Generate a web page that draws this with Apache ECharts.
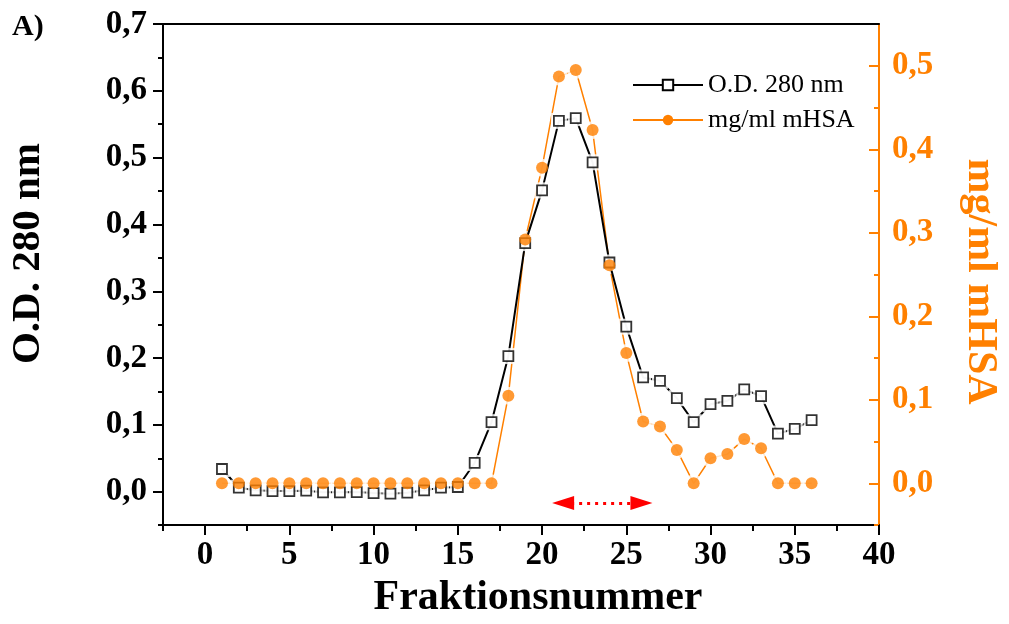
<!DOCTYPE html>
<html>
<head>
<meta charset="utf-8">
<script src="https://cdn.jsdelivr.net/npm/echarts@6/dist/echarts.min.js"></script>
<style>
  html, body { margin: 0; padding: 0; background: #fff; }
  #chart { width: 1009px; height: 624px; }
</style>
</head>
<body>
<div id="chart"></div>
<script>
// Fraction numbers of the gel filtration run
const fractions = [1, 2, 3, 4, 5, 6, 7, 8, 9, 10, 11, 12, 13, 14, 15, 16, 17, 18,
  19, 20, 21, 22, 23, 24, 25, 26, 27, 28, 29, 30, 31, 32, 33, 34, 35, 36];

// Absorbance at 280 nm per fraction
const od280 = [0.034, 0.006, 0.002, 0.001, 0.001, 0.0015, -0.001, -0.001, -0.0005, -0.002,
  -0.003, -0.0015, 0.002, 0.006, 0.007, 0.043, 0.104, 0.203, 0.372, 0.451,
  0.555, 0.559, 0.493, 0.343, 0.247, 0.171, 0.166, 0.140, 0.104, 0.131,
  0.136, 0.153, 0.143, 0.087, 0.094, 0.107];

// mHSA concentration (mg/ml) per fraction
const mhsa = [0, 0, 0, 0, 0, 0, 0, 0, 0, 0, 0, 0, 0, 0, 0, 0, 0, 0.105, 0.292, 0.378,
  0.487, 0.495, 0.423, 0.261, 0.156, 0.074, 0.068, 0.040, 0, 0.030,
  0.035, 0.053, 0.042, 0, 0, 0];

// Tick values
const xTicks = [0, 5, 10, 15, 20, 25, 30, 35, 40];
const xMinorTicks = [-2.5, 2.5, 7.5, 12.5, 17.5, 22.5, 27.5, 32.5, 37.5];
const odTicks = [0, 0.1, 0.2, 0.3, 0.4, 0.5, 0.6, 0.7];
const odMinorTicks = [-0.05, 0.05, 0.15, 0.25, 0.35, 0.45, 0.55, 0.65];
const mhsaTicks = [0, 0.1, 0.2, 0.3, 0.4, 0.5];
const mhsaMinorTicks = [-0.05, 0.05, 0.15, 0.25, 0.35, 0.45];

// Pooled fraction range (double arrow under the peak, arrowhead centres)
const poolRange = [21.25, 25.9];
const poolLevel = -0.017;

const ORANGE = '#ff8000';
const FONT = 'Liberation Serif';

const odPoints = fractions.map((f, i) => [f, od280[i]]);
const mhsaPoints = fractions.map((f, i) => [f, mhsa[i]]);
const comma = v => v.toFixed(1).replace('.', ',');

const tickLabelStyle = { fontFamily: FONT, fontWeight: 'bold', fontSize: 33 };

const chart = echarts.init(document.getElementById('chart'), null, { renderer: 'canvas' });

chart.setOption({
  animation: false,
  backgroundColor: '#fff',
  grid: { left: 163, right: 125, top: 24, bottom: 97, containLabel: false },
  graphic: [{
    type: 'text', left: 12, top: 12,
    style: { text: 'A)', fontFamily: FONT, fontWeight: 'bold', fontSize: 30, fill: '#000' }
  }],
  legend: {
    orient: 'vertical',
    left: 627, top: 67,
    itemWidth: 70, itemHeight: 13, itemGap: 9,
    data: ['O.D. 280 nm', 'mg/ml mHSA'],
    textStyle: { fontFamily: FONT, fontSize: 26, lineHeight: 26, color: '#000' }
  },
  xAxis: [{
    type: 'value', position: 'bottom', min: -2.5, max: 40,
    name: 'Fraktionsnummer', nameLocation: 'middle', nameGap: 51,
    nameTextStyle: { fontFamily: FONT, fontWeight: 'bold', fontSize: 42, color: '#000', padding: [0, 0, 0, 34] },
    splitLine: { show: false },
    axisLine: { show: true, onZero: false, lineStyle: { color: '#000', width: 2 } },
    axisTick: { show: true, customValues: xTicks, length: 10, lineStyle: { width: 2, color: '#000' } },
    axisLabel: { customValues: xTicks, margin: 14, color: '#000', ...tickLabelStyle }
  }, {
    // minor ticks on the bottom axis
    type: 'value', position: 'bottom', min: -2.5, max: 40,
    splitLine: { show: false },
    axisLine: { show: false, onZero: false },
    axisTick: { show: true, customValues: xMinorTicks, length: 6, lineStyle: { width: 2, color: '#000' } },
    axisLabel: { show: false }
  }, {
    // top frame line
    type: 'value', position: 'top', min: -2.5, max: 40,
    splitLine: { show: false },
    axisLine: { show: true, onZero: false, lineStyle: { color: '#000', width: 2 } },
    axisTick: { show: false },
    axisLabel: { show: false }
  }],
  yAxis: [{
    type: 'value', position: 'left', min: -0.05, max: 0.7,
    name: 'O.D. 280 nm', nameLocation: 'middle', nameGap: 114, nameRotate: 90,
    nameTextStyle: { fontFamily: FONT, fontWeight: 'bold', fontSize: 41, color: '#000', padding: [0, 0, 0, 42] },
    splitLine: { show: false },
    axisLine: { show: true, onZero: false, lineStyle: { color: '#000', width: 2 } },
    axisTick: { show: true, customValues: odTicks, length: 10, lineStyle: { width: 2, color: '#000' } },
    axisLabel: { customValues: odTicks, margin: 16, color: '#000', formatter: comma, ...tickLabelStyle }
  }, {
    type: 'value', position: 'right', min: -0.05, max: 0.55,
    name: 'mg/ml mHSA', nameLocation: 'middle', nameGap: 80, nameRotate: -90,
    nameTextStyle: { fontFamily: FONT, fontWeight: 'bold', fontSize: 42, color: ORANGE, padding: [0, 0, 0, 14] },
    splitLine: { show: false },
    axisLine: { show: true, onZero: false, lineStyle: { color: ORANGE, width: 2 } },
    axisTick: { show: true, inside: true, customValues: mhsaTicks, length: 10, lineStyle: { width: 2, color: ORANGE } },
    axisLabel: { customValues: mhsaTicks, margin: 13, color: ORANGE, formatter: comma, ...tickLabelStyle }
  }, {
    // minor ticks, left
    type: 'value', position: 'left', min: -0.05, max: 0.7,
    splitLine: { show: false },
    axisLine: { show: false, onZero: false },
    axisTick: { show: true, customValues: odMinorTicks, length: 5, lineStyle: { width: 2, color: '#000' } },
    axisLabel: { show: false }
  }, {
    // minor ticks, right
    type: 'value', position: 'right', min: -0.05, max: 0.55,
    splitLine: { show: false },
    axisLine: { show: false, onZero: false },
    axisTick: { show: true, inside: true, customValues: mhsaMinorTicks, length: 5, lineStyle: { width: 2, color: ORANGE } },
    axisLabel: { show: false }
  }],
  series: [{
    // mHSA line
    name: 'mg/ml mHSA', type: 'line', xAxisIndex: 0, yAxisIndex: 1, z: 2,
    data: mhsaPoints, showSymbol: false, symbol: 'circle', symbolSize: 12,
    itemStyle: { color: ORANGE },
    lineStyle: { color: ORANGE, width: 1.5 }
  }, {
    // white gap around mHSA points
    type: 'scatter', xAxisIndex: 0, yAxisIndex: 1, z: 3, silent: true,
    data: mhsaPoints, symbol: 'circle', symbolSize: 18,
    itemStyle: { color: '#fff' }
  }, {
    // O.D. line
    name: 'O.D. 280 nm', type: 'line', xAxisIndex: 0, yAxisIndex: 0, z: 4,
    data: odPoints, showSymbol: false, symbol: 'rect', symbolSize: 10,
    itemStyle: { color: '#fff', borderColor: '#000', borderWidth: 1.5 },
    lineStyle: { color: '#000', width: 2 },
    markLine: {
      silent: true, symbol: ['triangle', 'triangle'], symbolSize: [14, 22],
      label: { show: false },
      lineStyle: { color: '#ff0000', width: 3, type: [3, 5] },
      itemStyle: { color: '#ff0000' },
      data: [[{ coord: [poolRange[0], poolLevel] }, { coord: [poolRange[1], poolLevel] }]]
    }
  }, {
    // white gap around O.D. points
    type: 'scatter', xAxisIndex: 0, yAxisIndex: 0, z: 5, silent: true,
    data: odPoints, symbol: 'rect', symbolSize: 16,
    itemStyle: { color: '#fff' }
  }, {
    // O.D. markers
    type: 'scatter', xAxisIndex: 0, yAxisIndex: 0, z: 6, silent: true,
    data: odPoints, symbol: 'rect', symbolSize: 10,
    itemStyle: { color: '#fff', borderColor: '#000', borderWidth: 1.8 }
  }, {
    // mHSA markers
    type: 'scatter', xAxisIndex: 0, yAxisIndex: 1, z: 7, silent: true,
    data: mhsaPoints, symbol: 'circle', symbolSize: 12,
    itemStyle: { color: ORANGE }
  }]
});
</script>
</body>
</html>
